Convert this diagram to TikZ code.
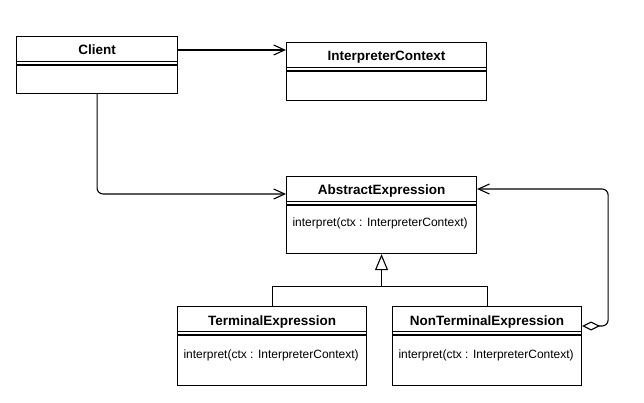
\documentclass[tikz,border=0pt]{standalone}
\usepackage{fontspec}
\setmainfont{Liberation Sans}
\usetikzlibrary{arrows.meta,positioning}

\begin{document}
\begin{tikzpicture}[x=1pt, y=-1pt,
            > = {Straight Barb[length=11pt, width=10pt]},
every path/.append style = {line width=1.1pt},
    class/.style = {rectangle, draw, anchor=north west, inner sep=0pt, minimum height=57pt},
    title/.style = {anchor=base, inner sep=0pt, font=\fontsize{13.5}{16}\selectfont\bfseries},
       op/.style = {anchor=base west, inner sep=0pt, font=\fontsize{12}{14}\selectfont},
  inherit/.style = {-{Triangle[open, length=16pt, width=13pt]}},
    aggreg/.style = {{Diamond[open, length=18pt, width=9pt]}->, rounded corners=6pt}
]
\useasboundingbox (0,0) rectangle (644,403);
% classes
\node (client)  [class, minimum width=161pt]                    at (16,36)  {};
\node (ctx)     [class, minimum width=200pt, minimum height=58pt] at (286,42) {};
\node (abs)     [class, minimum width=190pt, minimum height=77pt] at (286,176) {};
\node (term)    [class, minimum width=189pt, minimum height=79pt] at (177,306) {};
\node (nonterm) [class, minimum width=189pt, minimum height=79pt] at (392,306) {};
% double line under the class names
\foreach \c in {client,ctx,abs,term,nonterm}{
  \draw ([yshift=-25.5pt]\c.north west) -- ([yshift=-25.5pt]\c.north east);
  \draw ([yshift=-29pt]\c.north west) -- ([yshift=-29pt]\c.north east);
}
% names and operations
\node (clientname)  [title] at ([yshift=-19pt]client.north)  {Client};
\node (ctxname)     [title] at ([yshift=-19pt]ctx.north)     {InterpreterContext};
\node (absname)     [title] at ([yshift=-19pt]abs.north)     {AbstractExpression};
\node (termname)    [title] at ([yshift=-19pt]term.north)    {TerminalExpression};
\node (nontermname) [title] at ([yshift=-19pt]nonterm.north) {NonTerminalExpression};
\node (absop)     [op] at ([shift={(6,50)}]abs.north west)     {interpret(ctx : InterpreterContext)};
\node (termop)    [op] at ([shift={(6,52)}]term.north west)    {interpret(ctx : InterpreterContext)};
\node (nontermop) [op] at ([shift={(6,52)}]nonterm.north west) {interpret(ctx : InterpreterContext)};
% connectors
\draw[->] ([yshift=-14pt]client.north east) -- ([yshift=-14pt]client.north east -| ctx.west);
\draw[->, rounded corners=6pt] (client.south) |- ([yshift=-18pt]abs.north west);
\coordinate (join) at ([yshift=-32pt]abs.south);
\draw (term.north) |- (join) -| (nonterm.north);
\draw[inherit] (join) -- (abs.south);
\draw[aggreg] ([yshift=-20pt]nonterm.north east) -- ++(26,0) |- ([yshift=-13pt]abs.north east);
\end{tikzpicture}
\end{document}
